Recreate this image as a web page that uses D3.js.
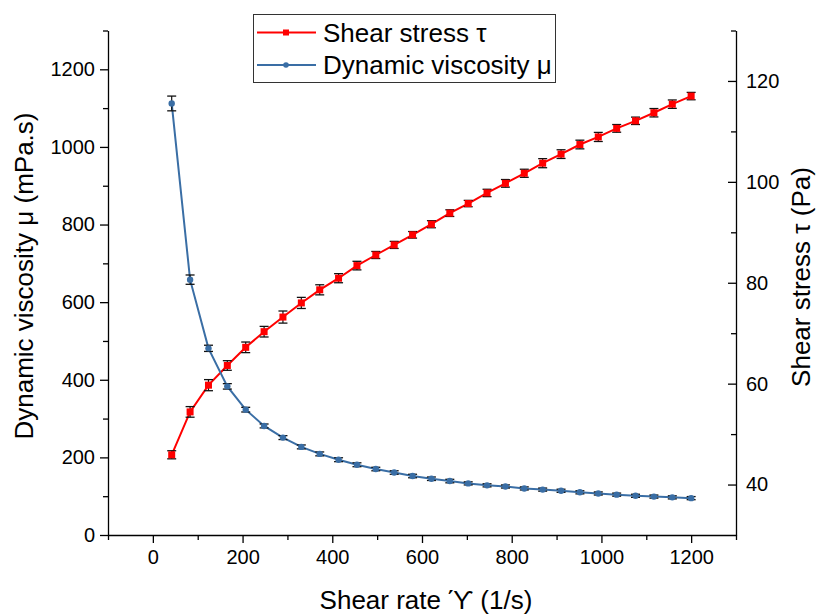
<!DOCTYPE html>
<html>
  <head>
    <meta charset="utf-8">
    <style>
      body {margin: 0; background: #fff;}
      * {font-family: "Liberation Sans", Arial, sans-serif;}
    </style>
    <script src="https://d3js.org/d3.v7.min.js"></script>
  </head>
  <body>
    <div id="chart"></div>
    <script>
      // shear rate (1/s)
      const shearRate = [42, 83, 124, 166, 207, 248, 290, 331, 372, 414, 455, 497, 538, 579, 621,
                         662, 703, 745, 786, 828, 869, 910, 952, 993, 1034, 1076, 1117, 1158, 1200]
      // shear stress (Pa), right axis
      const shearStress = [45.9, 54.4, 59.7, 63.6, 67.2, 70.3, 73.2, 76.0, 78.6, 80.9, 83.4, 85.5, 87.5, 89.5, 91.6,
                           93.8, 95.7, 97.8, 99.7, 101.7, 103.7, 105.5, 107.4, 108.9, 110.6, 112.1, 113.7, 115.4, 117.0]
      const stressErr = [0.8, 1.05, 1.1, 0.95, 1.05, 1.05, 1.2, 1.1, 1.0, 0.9, 0.85, 0.7, 0.7, 0.65, 0.7,
                         0.66, 0.63, 0.73, 0.76, 0.8, 0.9, 0.86, 0.86, 0.9, 0.76, 0.73, 0.83, 0.83, 0.73]
      // dynamic viscosity (mPa.s), left axis
      const viscosity = [1112, 658, 481, 383, 323, 281, 251, 227, 209, 194, 181, 170, 161, 152, 145,
                         139, 133, 128, 125, 120, 117, 114, 110, 107, 104, 101, 99, 97, 95]
      const viscErr = [19, 12, 8, 7, 6, 5, 5, 5, 5, 5, 5, 4.5, 4.5, 4.5, 4.5,
                       4.5, 4, 4, 4, 4, 4, 4, 4, 4, 4, 4, 4, 4, 4]

      const xTicks = [0, 200, 400, 600, 800, 1000, 1200]
      const yLeftTicks = [0, 200, 400, 600, 800, 1000, 1200]
      const yRightTicks = [40, 60, 80, 100, 120]

      const red = "#ff0000", blue = "#3a6ea5"

      var w = 817, h = 615
      margin = ({top: 30.5, right: 81, bottom: 80, left: 108})

      var svg = d3.select("#chart").append("svg")
          .attr("width", w).attr("height", h)

      var x = d3.scaleLinear().domain([-100, 1300]).range([margin.left, w - margin.right])
      var yL = d3.scaleLinear().domain([0, 1300]).range([h - margin.bottom, margin.top])
      var yR = d3.scaleLinear().domain([30, 130]).range([h - margin.bottom, margin.top])

      // axes
      var xAxis = svg.append("g")
          .attr("transform", "translate(0," + (h - margin.bottom) + ")")
          .call(d3.axisBottom(x).tickValues(xTicks).tickSize(8).tickSizeOuter(0).tickPadding(6).tickFormat(d3.format("d")))
      svg.append("g")
          .attr("transform", "translate(0," + (h - margin.bottom) + ")")
          .call(d3.axisBottom(x).tickValues(d3.range(-100, 1301, 200)).tickSize(5).tickSizeOuter(0).tickFormat(""))
          .select(".domain").remove()

      var yAxisL = svg.append("g")
          .attr("transform", "translate(" + margin.left + ",0)")
          .call(d3.axisLeft(yL).tickValues(yLeftTicks).tickSize(8).tickSizeOuter(0).tickPadding(5).tickFormat(d3.format("d")))
      svg.append("g")
          .attr("transform", "translate(" + margin.left + ",0)")
          .call(d3.axisLeft(yL).tickValues(d3.range(100, 1301, 200)).tickSize(5).tickSizeOuter(0).tickFormat(""))
          .select(".domain").remove()

      // right axis: ticks point inward, labels outside
      var yAxisR = svg.append("g")
          .attr("transform", "translate(" + (w - margin.right) + ",0)")
          .call(d3.axisRight(yR).tickValues(yRightTicks).tickSize(-8).tickSizeOuter(0).tickPadding(12).tickFormat(d3.format("d")))
      yAxisR.selectAll(".tick text").attr("x", 10)
      svg.append("g")
          .attr("transform", "translate(" + (w - margin.right) + ",0)")
          .call(d3.axisRight(yR).tickValues(d3.range(50, 131, 20)).tickSize(-5).tickSizeOuter(0).tickFormat(""))
          .select(".domain").remove()

      svg.selectAll(".domain, .tick line").attr("stroke", "#000").attr("stroke-width", 1.3)
      svg.selectAll(".tick text").attr("font-size", 20).attr("fill", "#000")
      xAxis.selectAll(".tick text").attr("dy", "0.75em")

      // axis titles
      svg.append("text")
          .attr("x", (x(-100) + x(1300)) / 2 + 4).attr("y", 609)
          .attr("text-anchor", "middle").attr("font-size", 26)
          .text("Shear rate \u03D3 (1/s)")
      svg.append("text")
          .attr("transform", "translate(33," + 276 + ") rotate(-90)")
          .attr("text-anchor", "middle").attr("font-size", 26)
          .text("Dynamic viscosity \u03BC (mPa.s)")
      svg.append("text")
          .attr("transform", "translate(810," + 277 + ") rotate(-90)")
          .attr("text-anchor", "middle").attr("font-size", 26)
          .text("Shear stress \u03C4 (Pa)")

      var redData = shearRate.map((d, i) => ({x: d, y: shearStress[i], e: stressErr[i]}))
      var blueData = shearRate.map((d, i) => ({x: d, y: viscosity[i], e: viscErr[i]}))

      function drawSeries(data, ys, color, shape) {
        var g = svg.append("g")
        g.append("path")
          .datum(data)
          .attr("fill", "none")
          .attr("stroke", color)
          .attr("stroke-width", 2)
          .attr("d", d3.line().x(d => x(d.x)).y(d => ys(d.y)))

        var eb = g.selectAll(".err").data(data).enter().append("g").attr("class", "err")
        eb.append("line")
          .attr("x1", d => x(d.x)).attr("x2", d => x(d.x))
          .attr("y1", d => ys(d.y - d.e)).attr("y2", d => ys(d.y + d.e))
          .attr("stroke", "#111").attr("stroke-width", 1.2)
        eb.append("line")
          .attr("x1", d => x(d.x) - 4.5).attr("x2", d => x(d.x) + 4.5)
          .attr("y1", d => ys(d.y + d.e)).attr("y2", d => ys(d.y + d.e))
          .attr("stroke", "#111").attr("stroke-width", 1.3)
        eb.append("line")
          .attr("x1", d => x(d.x) - 4.5).attr("x2", d => x(d.x) + 4.5)
          .attr("y1", d => ys(d.y - d.e)).attr("y2", d => ys(d.y - d.e))
          .attr("stroke", "#111").attr("stroke-width", 1.3)

        if (shape == "square") {
          g.selectAll(".mk").data(data).enter().append("rect")
            .attr("x", d => x(d.x) - 3.5).attr("y", d => ys(d.y) - 3.5)
            .attr("width", 7).attr("height", 7)
            .attr("fill", color)
        } else {
          g.selectAll(".mk").data(data).enter().append("circle")
            .attr("cx", d => x(d.x)).attr("cy", d => ys(d.y))
            .attr("r", 3.2)
            .attr("fill", color)
        }
      }

      drawSeries(redData, yR, red, "square")
      drawSeries(blueData, yL, blue, "circle")

      // legend
      var lg = svg.append("g")
      lg.append("rect")
        .attr("x", 253.5).attr("y", 14.5).attr("width", 302).attr("height", 68)
        .attr("fill", "#fff").attr("stroke", "#333").attr("stroke-width", 1)
      var legendItems = [
        {label: "Shear stress \u03C4", color: red, shape: "square", y: 32.5},
        {label: "Dynamic viscosity \u03BC", color: blue, shape: "circle", y: 65}
      ]
      legendItems.forEach(function(it) {
        lg.append("line")
          .attr("x1", 257).attr("x2", 316).attr("y1", it.y).attr("y2", it.y)
          .attr("stroke", it.color).attr("stroke-width", 2)
        if (it.shape == "square") {
          lg.append("rect").attr("x", 283).attr("y", it.y - 3).attr("width", 6).attr("height", 6).attr("fill", it.color)
        } else {
          lg.append("circle").attr("cx", 286).attr("cy", it.y).attr("r", 2.8).attr("fill", it.color)
        }
        lg.append("text")
          .attr("x", 323).attr("y", it.y + 9)
          .attr("font-size", 26)
          .text(it.label)
      })
    </script>
  </body>
</html>
